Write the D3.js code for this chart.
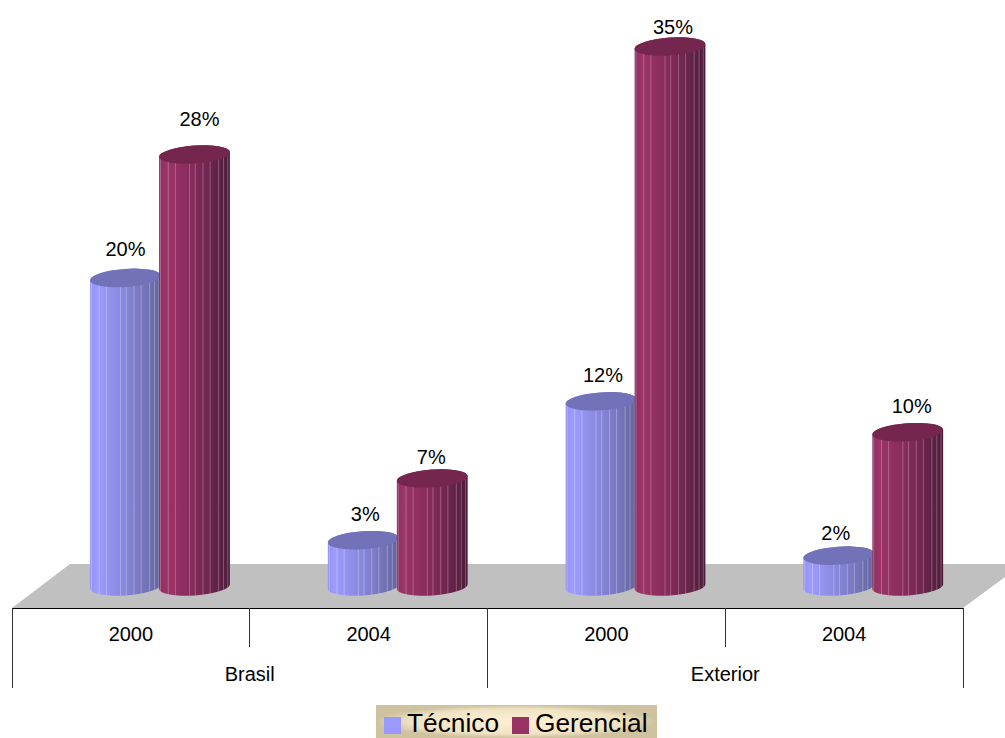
<!DOCTYPE html>
<html><head><meta charset="utf-8">
<script src="https://cdn.jsdelivr.net/npm/d3@7"></script>
<style>html,body{margin:0;padding:0;background:#fff}svg{display:block}text{font-family:"Liberation Sans",Arial,sans-serif;fill:#000}</style>
</head><body><svg id="c" width="1005" height="738"></svg>
<script>
const years = ["2000","2004","2000","2004"];
const regions = ["Brasil","Exterior"];
const series = ["Técnico","Gerencial"];
const tecnico = [20,3,12,2];
const gerencial = [28,7,35,10];
const stripeFractions = [0.02,0.13,0.23,0.43,0.51,0.62,0.72,0.84,0.91,0.97];
const seriesValues = [tecnico, gerencial];

const svg = d3.select("#c");
const defs = svg.append("defs");
const x0 = d3.scaleBand().domain(d3.range(years.length)).range([12,963]);
const xRegion = d3.scaleBand().domain(regions).range([12,963]);
const x1 = d3.scaleBand().domain(series).range([79,217]);
const y = d3.scaleLinear().domain([0,35]).range([586.5,46.5]);
const color = d3.scaleOrdinal().domain(series).range(["#9999ff","#993366"]);
const capColor = d3.scaleOrdinal().domain(series).range(["#7272b9","#74264f"]);
const stops = {
  "Técnico":[[0,"#9292f2"],[.1,"#9c9cff"],[.5,"#8686da"],[.85,"#6f6fb0"],[1,"#62629c"]],
  "Gerencial":[[0,"#8c3062"],[.1,"#9c3468"],[.5,"#842a5a"],[.85,"#5e2246"],[1,"#4d1c3a"]]
};
series.forEach((s,i)=>{
  const g = defs.append("linearGradient").attr("id","g"+i);
  stops[s].forEach(d=>g.append("stop").attr("offset",d[0]).attr("stop-color",d[1]));
});
const rg = defs.append("radialGradient").attr("id","lg");
rg.append("stop").attr("offset",0).attr("stop-color","#fff0d2");
rg.append("stop").attr("offset",.75).attr("stop-color","#f0e3c4");
rg.append("stop").attr("offset",1).attr("stop-color","#cfc29f");

// floor
svg.append("path").attr("fill","#c0c0c0")
  .attr("d",d3.line()([[12,608],[70,564],[1005,564],[1005,577],[963,608]]));

const rx=35.5, ry=9, tilt=-4, dx=rx*Math.cos(tilt*Math.PI/180), dy=-rx*Math.sin(tilt*Math.PI/180);
const labelGap = [[22,19,19,16],[29,15,13,19]];
const labelDx = [[0,2,2,-3],[5,-1,3,4]];

series.forEach((s,si)=>{
  seriesValues[si].forEach((v,ci)=>{
    const cx = x0(ci)+x1(s)+x1.bandwidth()/2, top=y(v), bot=y(0);
    const body = `M${cx-dx},${top+dy}L${cx-dx},${bot+dy}A${rx},${ry} ${tilt} 0 0 ${cx+dx},${bot-dy}L${cx+dx},${top-dy}A${rx},${ry} ${tilt} 0 0 ${cx-dx},${top+dy}Z`;
    const id=`clip${si}${ci}`;
    defs.append("clipPath").attr("id",id).append("path").attr("d",body);
    const g=svg.append("g");
    g.append("path").attr("d",body).attr("fill",`url(#g${si})`);
    g.append("g").attr("clip-path",`url(#${id})`).selectAll("line").data(stripeFractions).join("line")
      .attr("x1",f=>cx-dx+2*dx*f).attr("x2",f=>cx-dx+2*dx*f)
      .attr("y1",top-ry-4).attr("y2",bot+ry+4)
      .attr("stroke","#fff").attr("stroke-opacity",si?0.25:0.28).attr("stroke-width",1);
    g.append("ellipse").attr("cx",cx).attr("cy",top).attr("rx",rx).attr("ry",ry)
      .attr("transform",`rotate(${tilt} ${cx} ${top})`).attr("fill",capColor(s));
  });
});
// data labels
series.forEach((s,si)=>{
  seriesValues[si].forEach((v,ci)=>{
    const cx = x0(ci)+x1(s)+x1.bandwidth()/2;
    svg.append("text").attr("x",cx+labelDx[si][ci]).attr("y",y(v)-labelGap[si][ci])
      .attr("text-anchor","middle").attr("font-size",20).text(v+"%");
  });
});

// axes
const axis1 = svg.append("g").attr("transform","translate(0,608)")
  .call(d3.axisBottom(x0).tickSize(0).tickPadding(0).tickFormat(i=>years[i]));
axis1.select(".domain").remove();
axis1.selectAll("text").attr("y",33).attr("dy",0).attr("font-size",20).attr("font-family",null);
const axis2 = svg.append("g").attr("transform","translate(0,608)")
  .call(d3.axisBottom(xRegion).tickSize(0).tickPadding(0));
axis2.select(".domain").remove();
axis2.selectAll("text").attr("y",73).attr("dy",0).attr("font-size",20).attr("font-family",null);
svg.append("line").attr("x1",12).attr("x2",964).attr("y1",608.5).attr("y2",608.5).attr("stroke","#000");
d3.range(years.length+1).forEach(i=>{
  const px = Math.floor(i<years.length? x0(i): x0.range()[1])+.5;
  svg.append("line").attr("x1",px).attr("x2",px).attr("y1",608).attr("y2",i%2?647:688)
    .attr("stroke","#333").attr("stroke-width",1);
});

// legend
svg.append("rect").attr("x",376).attr("y",705).attr("width",281).attr("height",33).attr("fill","url(#lg)");
const lx = d3.scaleOrdinal().domain(series).range([384,512]);
series.forEach(s=>{
  svg.append("rect").attr("x",lx(s)).attr("y",717).attr("width",17).attr("height",17).attr("fill",color(s));
  svg.append("text").attr("x",lx(s)+23).attr("y",732.4).attr("font-size",26.3).text(s);
});
</script></body></html>
